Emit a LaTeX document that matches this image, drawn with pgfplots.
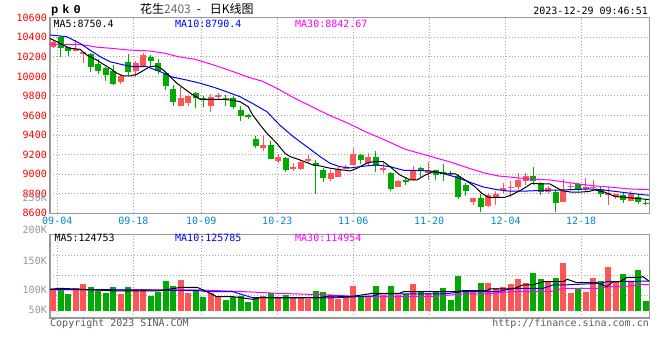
\documentclass[border=0pt]{standalone}
\usepackage{pgfplots}
\pgfplotsset{compat=1.18}
\usepackage{pgfplotstable}
\usepackage{fontspec}
\newfontfamily\sina{DejaVu Sans Mono}
\newfontfamily\cjk{Noto Sans CJK SC}
\newfontfamily\pkf{Liberation Mono}
\newcommand\sn{\sina\fontsize{10bp}{12bp}\selectfont}
\definecolor{upred}{RGB}{255,85,85}
\definecolor{dngreen}{RGB}{0,170,0}
\definecolor{gridgray}{RGB}{165,165,165}
\definecolor{framegray}{RGB}{153,153,153}
\definecolor{datecol}{RGB}{0,136,204}
\definecolor{volgray}{RGB}{150,150,150}
\definecolor{mag}{RGB}{255,0,255}
\definecolor{mablue}{RGB}{0,0,255}

\pgfplotstableread{
i o h l c v
0 10304 10372 10287 10355 103.5
3 10263 10368 10263 10285 106
4 10232 10250 10134 10248 116.8
9 9946 10010 9925 10007 91.8
11 10060 10160 9995 10140 103.5
12 10110 10235 10100 10215 104.3
17 9700 9890 9700 9780 126.8
18 9725 9810 9700 9800 95
21 9700 9820 9635 9785 93.5
22 9787 9830 9770 9810 87.5
28 9272 9395 9240 9298 86.8
30 9135 9210 9115 9180 81
32 9055 9110 9030 9078 81
33 9058 9140 9040 9125 81
34 9135 9200 9112 9160 78.5
37 8952 9045 8930 9010 89.3
38 8975 9075 8975 9055 79.3
39 9055 9095 9050 9075 86.8
40 9095 9270 9080 9207 111.8
42 9112 9215 9080 9175 86.8
44 9045 9110 9015 9062 89.3
46 8866 8945 8866 8932 89.3
48 8940 9085 8930 9045 116.8
50 9015 9120 8940 9045 95
56 8720 8760 8685 8760 97.5
58 8675 8810 8660 8790 120
59 8755 8830 8685 8795 106
60 8840 8905 8810 8855 110
61 8860 8935 8770 8873 116.8
62 8870 9010 8840 8940 128.5
63 8935 9015 8890 8982 120
66 8815 8880 8810 8855 122.5
68 8720 8950 8720 8832 170
69 8870 8910 8840 8880 95
71 8850 8960 8830 8873 97.5
72 8855 8945 8840 8872 131
74 8788 8873 8685 8805 160
75 8764 8800 8745 8795 122.5
77 8730 8830 8725 8800 122.5
}\upT

\pgfplotstableread{
i o h l c v
1 10400 10410 10195 10290 106
2 10300 10300 10205 10262 91.8
5 10230 10240 10040 10100 108.5
6 10125 10175 10025 10050 100
7 10085 10100 9950 10010 95
8 10050 10115 9910 9922 108.5
10 10150 10230 10010 10045 108.5
13 10195 10220 10100 10160 86.8
14 10135 10180 10020 10060 97.5
15 10030 10030 9860 9900 124.3
16 9870 9910 9700 9735 111.8
19 9830 9840 9680 9775 101.8
20 9775 9800 9690 9765 83.5
23 9780 9810 9700 9770 76.8
24 9780 9800 9665 9685 83.5
25 9660 9700 9540 9590 86.8
26 9605 9620 9560 9588 72.5
27 9360 9390 9265 9290 85
29 9300 9335 9155 9158 95
31 9170 9180 9025 9042 89.3
35 9110 9140 8800 9080 100
36 9045 9065 8915 8962 97.5
41 9200 9205 9105 9150 86.8
43 9175 9240 9025 9085 111.8
45 9015 9020 8830 8845 111.8
47 8945 8975 8890 8918 91.8
49 9060 9075 8970 9030 97.5
51 9040 9045 8940 8990 99.3
52 9025 9100 8935 9002 106
53 9015 9030 8980 9003 76.8
54 8980 9000 8745 8765 136.8
55 8890 8905 8780 8830 97.5
57 8760 8800 8610 8660 120
64 8982 9077 8890 8935 145
65 8905 8920 8790 8820 128.5
67 8820 8840 8615 8710 131
70 8895 8905 8830 8840 104.3
73 8846 8873 8770 8795 124.3
76 8788 8805 8710 8740 141.8
78 8771 8800 8690 8712 151.8
79 8709 8740 8680 8695 75
}\dnT

\pgfplotsset{
  sinaaxis/.style={
    scale only axis, width=599.5bp,
    xmin=-0.4, xmax=79.47,
    axis line style={draw=framegray, line width=1.2bp},
    major tick length=0pt,
    grid=major,
    major grid style={draw=gridgray, line width=0.9bp, dash pattern=on 1bp off 2bp},
    xtick={0.57,10.70,19.75,29.88,40.0,50.1,60.31,70.35},
    scaled y ticks=false, scaled x ticks=false,
  }
}

\begin{document}
\begin{tikzpicture}
\path[use as bounding box] (0bp,0bp) rectangle (660bp,360bp);

% ---------- price panel ----------
\begin{axis}[sinaaxis,
  at={(50bp,146.7bp)}, anchor=south west,
  height=195.6bp,
  ymin=8600, ymax=10600,
  ytick={8600,8800,9000,9200,9400,9600,9800,10000,10200,10400,10600},
  yticklabels={8600,8800,9000,9200,9400,9600,9800,10000,10200,10400,10600},
  xticklabels={09-04,09-18,10-09,10-23,11-06,11-20,12-04,12-18},
  yticklabel style={font=\sn, text=red, inner sep=0pt, anchor=east, xshift=-3bp},
  xticklabel style={font=\sn, text=datecol, inner sep=0pt, anchor=base, yshift=-11bp},
]
% wicks
\addplot[upred, line width=1bp, quiver={u=0,v=\thisrow{h}-\thisrow{l}}] table[x=i,y=l]{\upT};
\addplot[dngreen, line width=1bp, quiver={u=0,v=\thisrow{h}-\thisrow{l}}] table[x=i,y=l]{\dnT};
% bodies
\addplot[upred, line width=6bp, quiver={u=0,v=\thisrow{c}-\thisrow{o}}] table[x=i,y=o]{\upT};
\addplot[dngreen, line width=6bp, quiver={u=0,v=\thisrow{c}-\thisrow{o}}] table[x=i,y=o]{\dnT};
% MA30
\addplot[mag, line width=1bp, no markers] coordinates {
(-0.4,10328) (3.4,10328) (4.7,10314) (6.0,10297) (7.8,10287) (10.0,10270) (12.9,10260) (14.9,10236) (16.7,10201) (18.9,10175) (21.1,10124) (23.4,10065) (26.2,9987) (27.8,9953) (30.0,9871) (32.2,9776) (34.5,9690) (36.7,9606) (39.6,9511) (41.6,9435) (44.2,9350) (46.9,9255) (49.6,9197) (52.9,9125) (55.8,9051) (57.6,9010) (59.3,8982) (61.1,8969) (63.8,8948) (66.2,8941) (67.8,8924) (70.0,8900) (72.2,8880) (74.4,8867) (76.6,8850) (78.9,8843) (79.4,8842)};
% MA10
\addplot[mablue, line width=1bp, no markers] coordinates {
(-0.4,10423) (1.8,10406) (3.6,10338) (4.9,10270) (6.3,10201) (7.6,10150) (9.4,10117) (10.7,10099) (12.5,10099) (14.3,10048) (16.0,9991) (17.8,9963) (19.6,9930) (21.4,9889) (23.1,9844) (24.9,9793) (26.7,9718) (28.5,9639) (30.2,9503) (32.0,9384) (33.8,9282) (35.6,9179) (36.9,9112) (38.2,9077) (39.6,9064) (41.3,9081) (43.1,9095) (44.9,9077) (46.7,9040) (48.4,9038) (50.2,9033) (52.0,9006) (53.8,8967) (55.6,8916) (57.3,8870) (59.1,8842) (60.9,8826) (62.7,8826) (64.4,8832) (66.2,8836) (68.0,8839) (69.8,8844) (71.5,8849) (73.3,8839) (75.1,8822) (76.9,8805) (78.6,8790) (79.4,8785)};
% MA5
\addplot[black, line width=1bp, no markers] coordinates {
(-0.4,10389) (1.33,10321) (2.26,10287) (3.6,10277) (4.5,10219) (5.8,10168) (6.7,10124) (7.6,10083) (8.5,10032) (9.4,10004) (10.3,10004) (11.2,10022) (12.0,10058) (12.9,10099) (13.8,10106) (14.7,10065) (15.6,9997) (16.5,9930) (17.6,9868) (18.5,9817) (19.6,9766) (20.9,9766) (22.2,9766) (23.6,9759) (24.9,9742) (26,9690) (26.6,9606) (27.6,9503) (28.5,9419) (29.8,9316) (30.9,9214) (31.6,9179) (32.9,9146) (34.6,9095) (35.6,9084) (36.9,9061) (38.6,9043) (39.6,9033) (40.5,9061) (41.8,9112) (42.7,9128) (44.0,9128) (44.9,9077) (46.2,8992) (47.6,8941) (48.5,8941) (49.6,8992) (50.7,9026) (52.5,9003) (53.6,9003) (54.9,8941) (56.2,8873) (57.1,8805) (58.0,8764) (60.2,8764) (61.1,8788) (62.4,8839) (63.8,8907) (65.1,8900) (66.2,8900) (67.8,8832) (69.1,8816) (70.0,8816) (71.3,8822) (72.2,8839) (73.5,8816) (74.9,8771) (76.2,8764) (77.5,8754) (78.8,8745) (79.4,8740)};
\end{axis}

% ---------- volume panel ----------
\begin{axis}[sinaaxis,
  at={(50bp,42bp)}, anchor=south west,
  height=83.7bp,
  ymin=31.75, ymax=241,
  ytick={89.25,139.25,189.25},
  yticklabels={}, xticklabels={},
]
\addplot[upred, line width=6bp, quiver={u=0,v=\thisrow{v}-50}] table[x=i,y expr=50]{\upT};
\addplot[dngreen, line width=6bp, quiver={u=0,v=\thisrow{v}-50}] table[x=i,y expr=50]{\dnT};
\addplot[mag, line width=1bp, no markers] coordinates {
(-0.4,101.8) (19.6,101.8) (26.2,97) (29.8,93.5) (36.9,89.3) (41.3,85) (50.2,85) (54.6,91.8) (57.8,91.8) (60.9,97.5) (66.2,97.5) (68,106) (72.5,106) (74.2,110) (76,110) (78.2,115) (79.4,115)};
\addplot[mablue, line width=1bp, no markers] coordinates {
(-0.4,103.5) (12.9,101.8) (19.6,100) (20.5,97.5) (24,97.5) (24.9,91.8) (26.6,82.5) (36.9,82) (42.6,86.8) (43.5,91.8) (52,91.8) (54.6,97.5) (59.2,97.5) (61.3,106) (65.3,106) (66.6,114.3) (68,114.3) (72.9,118.5) (73.8,122.5) (79.4,124)};
\addplot[black, line width=1bp, no markers] coordinates {
(-0.4,103.5) (0.9,106) (8.5,99.3) (13.9,99.3) (16.3,106) (16.9,108.5) (19.2,108.5) (20.5,97.5) (21.8,85) (24,85) (26.6,78.5) (27.6,82.5) (35.6,82.5) (36.9,86.8) (39.6,85) (42.6,93.5) (46.2,93.5) (46.7,97.5) (53.8,97.5) (54.6,100) (57.8,100) (58.2,104.3) (61.3,104.3) (62.6,114.3) (63.9,114.3) (65.3,122.5) (68,122.5) (68.5,128.5) (69.8,120) (72.5,120) (73.8,110) (74.6,122.5) (75.5,122.5) (76.5,133.5) (78.2,133.5) (78.6,135) (79.4,124)};
\end{axis}

% ---------- texts ----------
\node[anchor=base west, inner sep=0pt, font=\pkf\bfseries\fontsize{12bp}{14bp}\selectfont] at (51bp,346bp) {p\hspace{4bp}k\hspace{4bp}0};
\node[anchor=base west, inner sep=0pt, font=\cjk\fontsize{12bp}{14bp}\selectfont] at (140bp,346bp) {花生{\color{black!60}2403}\hspace{6bp}-\hspace{9bp}日K线图};
\node[anchor=base east, inner sep=0pt, font=\sn] at (648bp,345bp) {2023-12-29 09:46:51};
\node[anchor=base west, inner sep=0pt, font=\sn, text=black] at (53.3bp,332.7bp) {MA5:8750.4};
\node[anchor=base west, inner sep=0pt, font=\sn, text=mablue] at (175bp,332.7bp) {MA10:8790.4};
\node[anchor=base west, inner sep=0pt, font=\sn, text=mag] at (295bp,332.7bp) {MA30:8842.67};

\node[anchor=base west, inner sep=0pt, font=\sn, text=black] at (54.3bp,118.3bp) {MA5:124753};
\node[anchor=base west, inner sep=0pt, font=\sn, text=mablue] at (175bp,118.3bp) {MA10:125785};
\node[anchor=base west, inner sep=0pt, font=\sn, text=mag] at (295bp,118.3bp) {MA30:114954};

\node[anchor=base east, inner sep=0pt, font=\sn, text=volgray] at (47bp,158.3bp) {250K};
\node[anchor=base east, inner sep=0pt, font=\sn, text=volgray] at (47bp,126.7bp) {200K};
\node[anchor=base east, inner sep=0pt, font=\sn, text=volgray] at (47bp,95bp) {150K};
\node[anchor=base east, inner sep=0pt, font=\sn, text=volgray] at (47bp,66bp) {100K};
\node[anchor=base east, inner sep=0pt, font=\sn, text=volgray] at (47bp,46bp) {50K};

\node[anchor=base west, inner sep=0pt, font=\sn, text=black!65] at (50bp,34bp) {Copyright 2023 SINA.COM};
\node[anchor=base east, inner sep=0pt, font=\sn, text=black!65] at (649bp,34bp) {http://finance.sina.com.cn};
\end{tikzpicture}
\end{document}
